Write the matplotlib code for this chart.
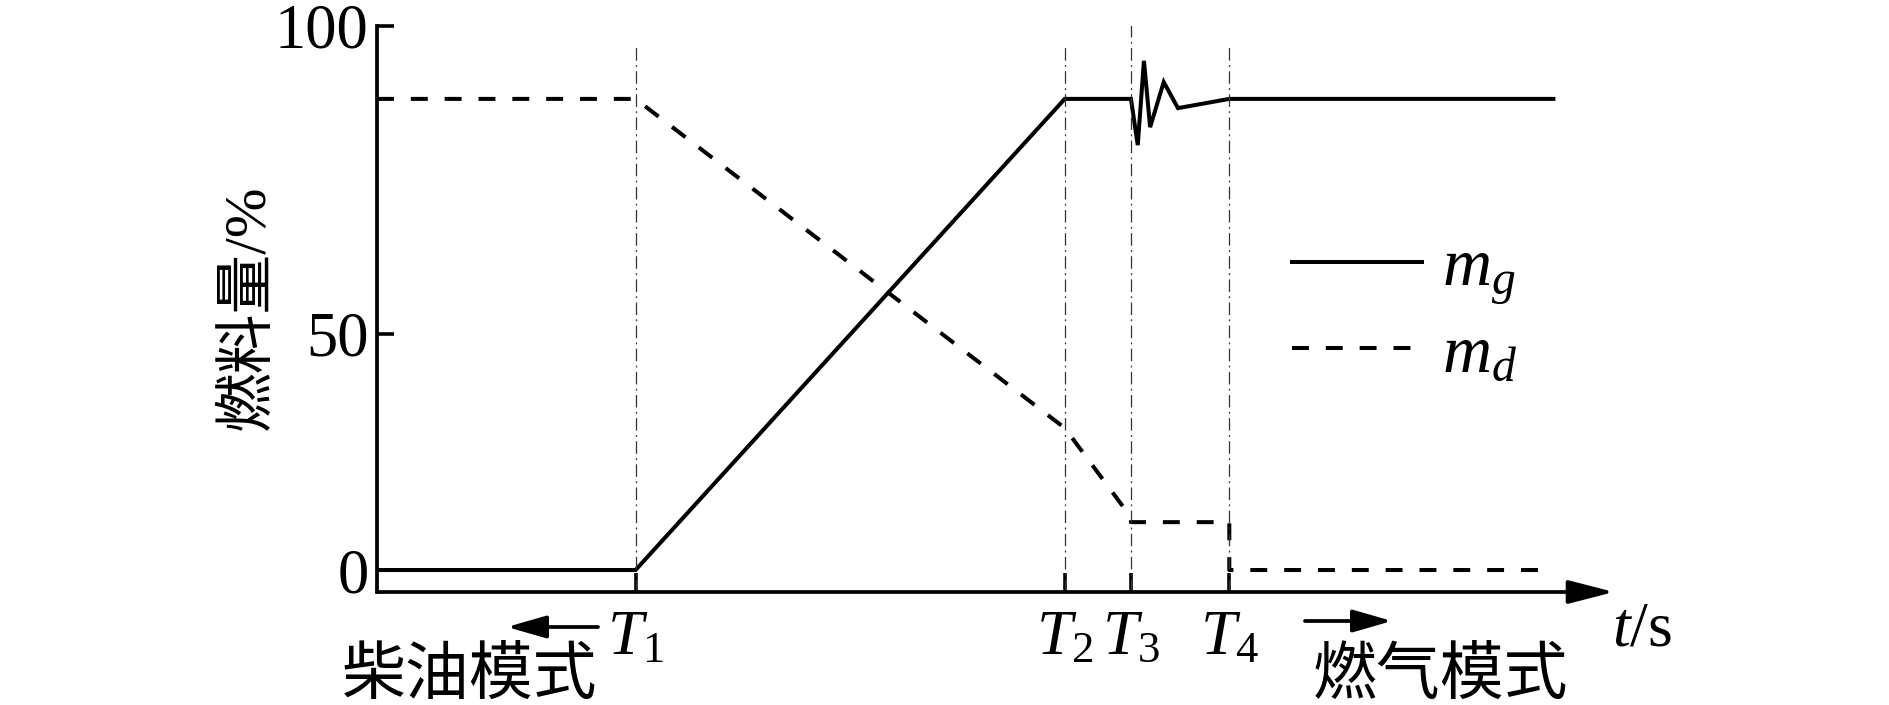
import matplotlib
matplotlib.use("Agg")
import matplotlib.pyplot as plt

plt.rcParams['font.family'] = ['Liberation Serif', 'Noto Sans CJK SC']
plt.rcParams['mathtext.fontset'] = 'custom'
plt.rcParams['mathtext.rm'] = 'Liberation Serif'
plt.rcParams['mathtext.it'] = 'Liberation Serif:italic'
plt.rcParams['mathtext.bf'] = 'Liberation Serif:bold'

# switching instants (arbitrary time units, schematic)
T1, T2, T3, T4 = 20.9, 55.6, 60.95, 68.9
t_labels = ['$T_1$', '$T_2$', '$T_3$', '$T_4$']

# gas fuel m_g (%)
t_mg = [0, T1, T2, T3, 61.5, 62.0, 62.5, 63.6, 64.75, T4, 95.1]
mg = [0, 0, 86.6, 86.6, 78.1, 93.6, 81.4, 89.7, 84.9, 86.6, 86.6]

# diesel fuel m_d (%)
t_md = [0, T1, T2, T3, T3, T4, T4, 94.5]
md = [86.6, 86.6, 26.1, 9.7, 8.8, 8.8, 0, 0]

# schematic y axis: tick positions and the labels printed there
y_tick_pos = [0, 43.4, 100]
y_tick_labels = ['0', '50', '100']

W, H = 1890, 705
fig = plt.figure(figsize=(W / 100, H / 100), dpi=100)
ax = fig.add_axes([377 / W, 113 / H, 1237 / W, 566 / H])

lw = 2.9
ax.plot(t_mg, mg, color='black', lw=lw, solid_joinstyle='miter', label='$m_g$')
ax.plot(t_md, md, color='black', lw=lw, linestyle=(0, (4.2, 4.2)), label='$m_d$')

# dash-dot guide lines at T1..T4
for i, t in enumerate([T1, T2, T3, T4]):
    top = 100.5 if i == 2 else 96.5
    ax.vlines(t, -4.04, top, colors='0.2', lw=0.9, linestyles=[(0, (10, 3.5, 1.5, 3.5))])

ax.set_xlim(0, 100)
ax.set_ylim(-4.04, 100)

ax.set_xticks([T1, T2, T3, T4])
ax.set_xticklabels(t_labels)
ax.set_yticks(y_tick_pos)
ax.set_yticklabels(y_tick_labels)
ax.tick_params(axis='x', direction='in', length=14, width=2.6, pad=13, labelsize=46)
ax.tick_params(axis='y', direction='in', length=12, width=2.6, pad=6, labelsize=45)

for s in ['top', 'right', 'bottom']:
    ax.spines[s].set_visible(False)
ax.spines['left'].set_linewidth(2.7)

# x axis with arrow head
ax.annotate('', xy=(1.0, 0), xytext=(0, 0), xycoords='axes fraction',
            arrowprops=dict(arrowstyle='-|>,head_length=0.7,head_width=0.18',
                            lw=2.7, color='black', mutation_scale=40,
                            shrinkA=0, shrinkB=0))
fig.text(1612 / W, 1 - 630 / H, '$t$/s', fontsize=46, ha='left', va='center')

ax.legend(loc='center left', bbox_to_anchor=(0.740, 0.495), frameon=False,
          fontsize=49, handlelength=1.9, handletextpad=0.3, labelspacing=0.25,
          borderpad=0, borderaxespad=0)

fig.text(249 / W, 1 - 307 / H, '燃料量/%', fontsize=43, rotation=90,
         ha='center', va='center')

# mode labels and arrows under the axis
fig.text(470 / W, 1 - 678 / H, '柴油模式', fontsize=46, ha='center', va='center')
fig.text(1440 / W, 1 - 678 / H, '燃气模式', fontsize=46, ha='center', va='center')
arrow = dict(arrowstyle='-|>,head_length=0.8,head_width=0.23', lw=2.7,
             color='black', mutation_scale=30, shrinkA=0, shrinkB=0)
fig.add_artist(matplotlib.patches.FancyArrowPatch(
    (598 / W, 1 - 627 / H), (507 / W, 1 - 627 / H),
    transform=fig.transFigure, **arrow))
fig.add_artist(matplotlib.patches.FancyArrowPatch(
    (1305 / W, 1 - 621 / H), (1392 / W, 1 - 621 / H),
    transform=fig.transFigure, **arrow))

fig.savefig('out.png', dpi=100)
